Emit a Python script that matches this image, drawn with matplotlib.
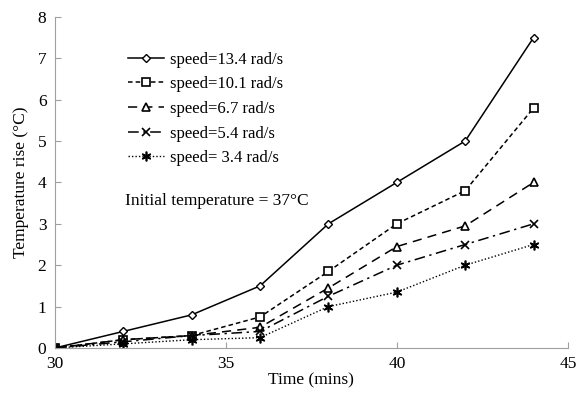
import numpy as np
import matplotlib.pyplot as plt

plt.rcParams['font.family'] = ['Liberation Serif', 'DejaVu Serif']

time = [30, 32, 34, 36, 38, 40, 42, 44]
s134 = [0, 0.4, 0.8, 1.5, 3.0, 4.0, 5.0, 7.5]
s101 = [0, 0.2, 0.3, 0.75, 1.85, 3.0, 3.8, 5.8]
s67 = [0, 0.2, 0.3, 0.5, 1.45, 2.45, 2.95, 4.0]
s54 = [0, 0.15, 0.3, 0.4, 1.25, 2.0, 2.5, 3.0]
s34 = [0, 0.1, 0.2, 0.25, 1.0, 1.35, 2.0, 2.5]
labels = ['speed=13.4 rad/s', 'speed=10.1 rad/s', 'speed=6.7 rad/s',
          'speed=5.4 rad/s', 'speed= 3.4 rad/s']

fig = plt.figure(figsize=(5.83, 4.0), dpi=100)
ax = fig.add_axes([0.094, 0.13, 0.88, 0.828])

ax.plot(time, s134, color='black', lw=1.1, ls='-', marker='D', ms=4.5,
        mfc='white', mec='black', label=labels[0])
ax.plot(time, s101, color='black', lw=1.1, ls=(0, (3, 2)), marker='s', ms=6,
        mfc='white', mec='black', mew=1.2, label=labels[1])
ax.plot(time, s67, color='black', lw=1.1, ls=(0, (6, 4)), marker='^', ms=6,
        mfc='white', mec='black', mew=1.2, label=labels[2])
ax.plot(time, s54, color='black', lw=1.1, ls=(0, (7, 3, 1.5, 3)), marker='x', ms=6,
        mec='black', mew=1.2, label=labels[3])
ax.plot(time, s34, color='black', lw=1.0, ls=(0, (1, 1.5)), marker=(6, 2, 0), ms=7,
        mec='black', mew=1.2, label=labels[4])

ax.set_xlim(30, 45)
ax.set_ylim(0, 8)
ax.set_xticks([30, 35, 40, 45])
ax.set_yticks(range(0, 9))
ax.tick_params(direction='in', length=4, color='#a0a0a0', labelsize=12.5, pad=6)
for side in ['top', 'right']:
    ax.spines[side].set_visible(False)
for side in ['left', 'bottom']:
    ax.spines[side].set_color('#a0a0a0')

ax.set_xlabel('Time (mins)', fontsize=12.5, labelpad=0)
ax.set_ylabel('Temperature rise (°C)', fontsize=12.5, labelpad=6)

ax.legend(loc='upper left', bbox_to_anchor=(0.129, 0.915), frameon=False,
          fontsize=12, handlelength=2.2, handletextpad=0.35, labelspacing=0.52,
          borderaxespad=0)
ax.text(32.05, 3.55, 'Initial temperature = 37°C', fontsize=12.5, va='center')

fig.savefig('out.png', dpi=100)
